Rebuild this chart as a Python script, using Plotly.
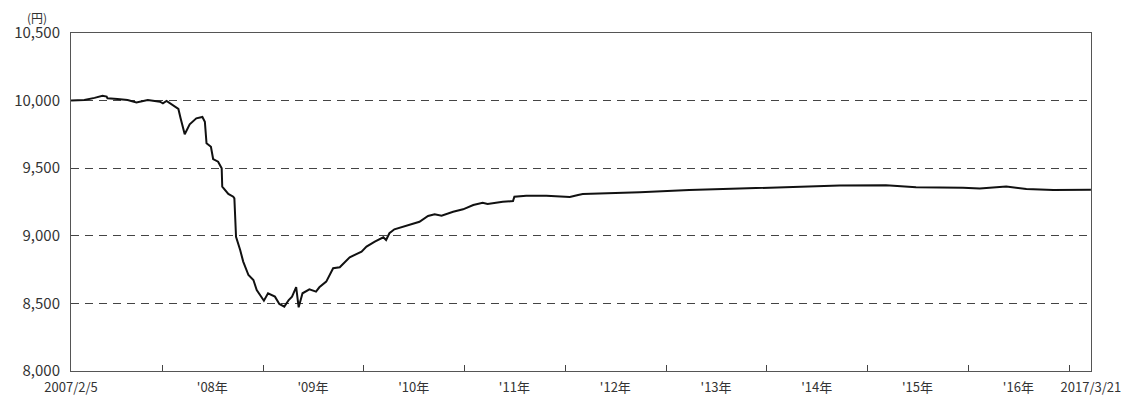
import plotly.graph_objects as go

# ---- data ----
dates = [
    "2007-02-05", "2007-03-25", "2007-05-01", "2007-05-30", "2007-06-14", "2007-06-17",
    "2007-07-23", "2007-08-29", "2007-09-30", "2007-11-10", "2007-12-24",
    "2008-01-04", "2008-01-17", "2008-02-05", "2008-02-29", "2008-03-08", "2008-03-23",
    "2008-04-10", "2008-05-04", "2008-05-26", "2008-06-04", "2008-06-10", "2008-06-26",
    "2008-07-04", "2008-07-22", "2008-08-04", "2008-08-06", "2008-08-28", "2008-09-15",
    "2008-09-19", "2008-09-25", "2008-10-10", "2008-10-21", "2008-11-09", "2008-11-27",
    "2008-12-09", "2008-12-27",
    "2009-01-04", "2009-01-19", "2009-02-13", "2009-03-01", "2009-03-19", "2009-04-04",
    "2009-04-16", "2009-05-01", "2009-05-10", "2009-05-24", "2009-06-18", "2009-07-12",
    "2009-07-24", "2009-08-18", "2009-09-12", "2009-10-06", "2009-11-11", "2009-12-24",
    "2010-01-11", "2010-02-10", "2010-03-13", "2010-03-23", "2010-04-04", "2010-04-22",
    "2010-06-04", "2010-07-22", "2010-08-22", "2010-09-15", "2010-10-10", "2010-11-21",
    "2010-12-27",
    "2011-02-02", "2011-03-08", "2011-03-26", "2011-05-20", "2011-06-26", "2011-07-01",
    "2011-08-13", "2011-10-25", "2011-12-25",
    "2012-01-18", "2012-02-17", "2012-03-05", "2012-09-28",
    "2013-03-26", "2013-09-25",
    "2014-03-24", "2014-07-10", "2014-09-22",
    "2015-03-09", "2015-06-26", "2015-12-13",
    "2016-02-12", "2016-05-18", "2016-07-30", "2016-11-05",
    "2017-02-21", "2017-03-21",
]
values = [
    10000, 10005, 10020, 10036, 10030, 10017,
    10012, 10005, 9987, 10004, 9992,
    9980, 9997, 9973, 9938, 9869, 9751,
    9825, 9869, 9879, 9844, 9684, 9659,
    9568, 9548, 9499, 9363, 9310, 9289,
    9277, 8993, 8895, 8809, 8710, 8673,
    8599, 8550,
    8520, 8575, 8550, 8496, 8476, 8525,
    8550, 8620, 8471, 8575, 8604, 8587,
    8619, 8661, 8760, 8767, 8841, 8883,
    8920, 8957, 8989, 8969, 9019, 9048,
    9075, 9104, 9147, 9159, 9149, 9178,
    9196,
    9228, 9245, 9235, 9252, 9257, 9289,
    9297, 9297, 9289,
    9287, 9302, 9309, 9322,
    9339, 9349,
    9359, 9364, 9372,
    9374, 9359, 9356,
    9349, 9364, 9346, 9339,
    9344, 9340,
]

label_dates = ["2007-02-05", "2008-07-01", "2009-07-01", "2010-07-01", "2011-07-01",
               "2012-07-01", "2013-07-01", "2014-07-01", "2015-07-01", "2016-07-01",
               "2017-03-21"]
label_text = ["2007/2/5", "'08年", "'09年", "'10年", "'11年", "'12年", "'13年",
              "'14年", "'15年", "'16年", "2017/3/21"]
year_ticks = ["2008-01-01", "2009-01-01", "2010-01-01", "2011-01-01", "2012-01-01",
              "2013-01-01", "2014-01-01", "2015-01-01", "2016-01-01", "2017-01-01"]
y_ticks = [8000, 8500, 9000, 9500, 10000, 10500]

FONT = "Noto Sans CJK JP"
TXT = "#333333"

fig = go.Figure()
fig.add_trace(go.Scatter(
    x=dates, y=values, mode="lines",
    line=dict(color="#111111", width=2),
    hoverinfo="x+y", showlegend=False,
))

# the page body adds an 8px margin, so the figure is sized/offset to compensate
fig.update_layout(
    width=1124, height=392,
    margin=dict(l=63, r=41, t=25, b=29),
    paper_bgcolor="white", plot_bgcolor="white",
    font=dict(family=FONT, color=TXT),
    annotations=[dict(
        text="(円)", xref="paper", yref="paper",
        x=-0.033, y=1.074, xanchor="center", yanchor="top",
        borderpad=0,
        showarrow=False, font=dict(family=FONT, size=12, color=TXT),
    )],
)

fig.update_xaxes(
    type="date", automargin=False,
    range=["2007-02-04 18:00", "2017-03-21 06:00"],
    tickmode="array", tickvals=label_dates, ticktext=label_text,
    ticks="", showgrid=False, zeroline=False, ticklabelstandoff=4,
    tickfont=dict(family=FONT, size=13, color=TXT),
    showline=True, linecolor="#555555", linewidth=1, mirror=True,
    minor=dict(tickmode="array", tickvals=year_ticks, ticks="inside",
               ticklen=6, tickcolor="#444444", tickwidth=1, showgrid=False),
)

fig.update_yaxes(
    automargin=False,
    range=[8000, 10500],
    tickmode="array", tickvals=y_ticks,
    tickformat=",d", ticks="", ticklabelstandoff=7,
    tickfont=dict(family=FONT, size=15, color=TXT),
    showgrid=True, gridcolor="#444444", gridwidth=1, griddash="8px,6px",
    zeroline=False,
    showline=True, linecolor="#555555", linewidth=1, mirror=True,
)

fig.write_html("out.html")
